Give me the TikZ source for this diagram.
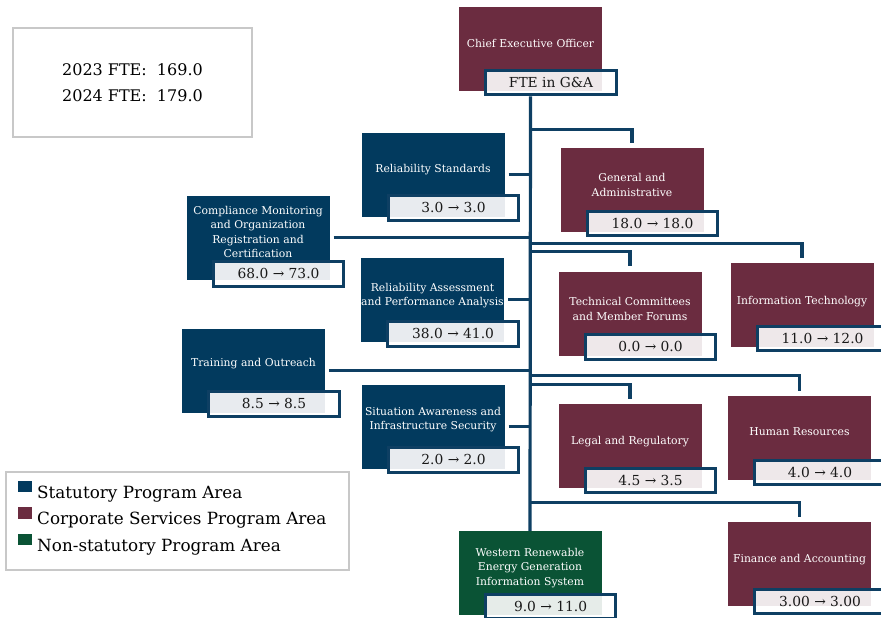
\documentclass[tikz,border=0pt]{standalone}
\usepackage{fontspec}
\setmainfont{DejaVu Serif}

\definecolor{statblue}{HTML}{023A5E}
\definecolor{corpred}{HTML}{6B2C40}
\definecolor{nsgreen}{HTML}{0A5335}
\definecolor{linkblue}{HTML}{0E3F63}
\definecolor{fillblue}{HTML}{E8EBEF}
\definecolor{fillred}{HTML}{EEE8EA}
\definecolor{fillgreen}{HTML}{E6ECE9}
\definecolor{framegray}{HTML}{C8C8C8}

\tikzset{
	every unit/.style={minimum width=143pt, minimum height=84pt, inner sep=0pt},
	unit label/.style={text=white, align=center, inner sep=0pt, font=\fontsize{10.8pt}{14.3pt}\selectfont},
	fte box/.style={draw=linkblue, line width=3.2pt, fill=white, minimum width=130.5pt, minimum height=24.5pt,
		inner sep=0pt, anchor=north west, text=black!90, font=\fontsize{13.8pt}{16pt}\selectfont},
	link/.style={draw=linkblue, line width=3.2pt},
	frame box/.style={draw=framegray, line width=1.2pt, inner sep=0pt}
}

\begin{document}
\begin{tikzpicture}[x=1pt, y=-1pt]
\useasboundingbox (0,0) rectangle (881,618);

% units
\foreach \nm/\col/\bg/\cx/\cy/\dy/\fy/\txt/\val in {
	ceo/corpred/fillred/530.5/49/6/22.6/{Chief Executive Officer}/{FTE in G\&A},
	rs/statblue/fillblue/433/174.5/4.5/22.6/{Reliability Standards}/{3.0 → 3.0},
	ga/corpred/fillred/632/190/5/22.6/{General and\\Administrative}/{18.0 → 18.0},
	cm/statblue/fillblue/258/237.5/5.5/19.6/{Compliance Monitoring\\and Organization\\Registration and\\Certification}/{68.0 → 73.0},
	ra/statblue/fillblue/432.5/299.5/4/21.6/{Reliability Assessment\\and Performance Analysis}/{38.0 → 41.0},
	tc/corpred/fillred/630/313.5/4.5/22.6/{Technical Committees\\and Member Forums}/{0.0 → 0.0},
	it/corpred/fillred/802/305/3/22.6/{Information Technology}/{11.0 → 12.0},
	to/statblue/fillblue/253.5/370.5/6.5/22.6/{Training and Outreach}/{8.5 → 8.5},
	sa/statblue/fillblue/433/426.5/7/22.6/{Situation Awareness and\\Infrastructure Security}/{2.0 → 2.0},
	lr/corpred/fillred/630/446/4/21.6/{Legal and Regulatory}/{4.5 → 3.5},
	hr/corpred/fillred/799.5/438/6/21.6/{Human Resources}/{4.0 → 4.0},
	wr/nsgreen/fillgreen/530/573/5/22.6/{Western Renewable\\Energy Generation\\Information System}/{9.0 → 11.0},
	fa/corpred/fillred/799.5/564/4/18.6/{Finance and Accounting}/{3.00 → 3.00}}
{
	\node [every unit, fill=\col] (\nm) at (\cx,\cy) {};
	\node [unit label] (\nm-label) at ([yshift=\dy pt]\nm.center) {\txt};
	\node [fte box, path picture={\fill[\bg] (path picture bounding box.north west) rectangle (\nm.south east);}]
		(\nm-fte) at ([xshift=25.4pt, yshift=\fy pt]\nm.south west) {\val};
}

% trunk
\coordinate (trunk) at (ceo.center |- ceo-fte.south);
\draw [link] (trunk) -- (wr.north);

% branches to the left
\foreach \nm in {rs,cm,ra,to,sa}
	\draw [link, shorten <=4pt] (\nm.east) -- (\nm.east -| trunk);

% branches to the right
\foreach \nm/\d in {ga/18,tc/20,it/19,lr/19,hr/20,fa/19}
{
	\path (\nm.north) ++(0,-\d) coordinate (\nm-turn);
	\draw [link, shorten >=5pt] (\nm-turn -| trunk) -| (\nm.north);
}

% totals
\node [frame box, minimum width=239pt, minimum height=109pt, align=center,
	font=\fontsize{16pt}{26pt}\selectfont] (totals) at (132.5,82.5)
	{2023 FTE:\ \ 169.0\\2024 FTE:\ \ 179.0};

% legend
\node [frame box, minimum width=343pt, minimum height=98pt] (legend) at (177.5,521) {};
\foreach \col/\txt [count=\i] in {statblue/Statutory Program Area,
	corpred/Corporate Services Program Area, nsgreen/Non-statutory Program Area}
{
	\node [fill=\col, minimum width=14pt, minimum height=11.5pt, inner sep=0pt] (key-\i) at (24.5,460+\i*26.5) {};
	\node [anchor=base west, inner sep=0pt, font=\fontsize{16.8pt}{20pt}\selectfont] (key-\i-text) at (37,471.5+\i*26.5) {\txt};
}

\end{tikzpicture}
\end{document}
